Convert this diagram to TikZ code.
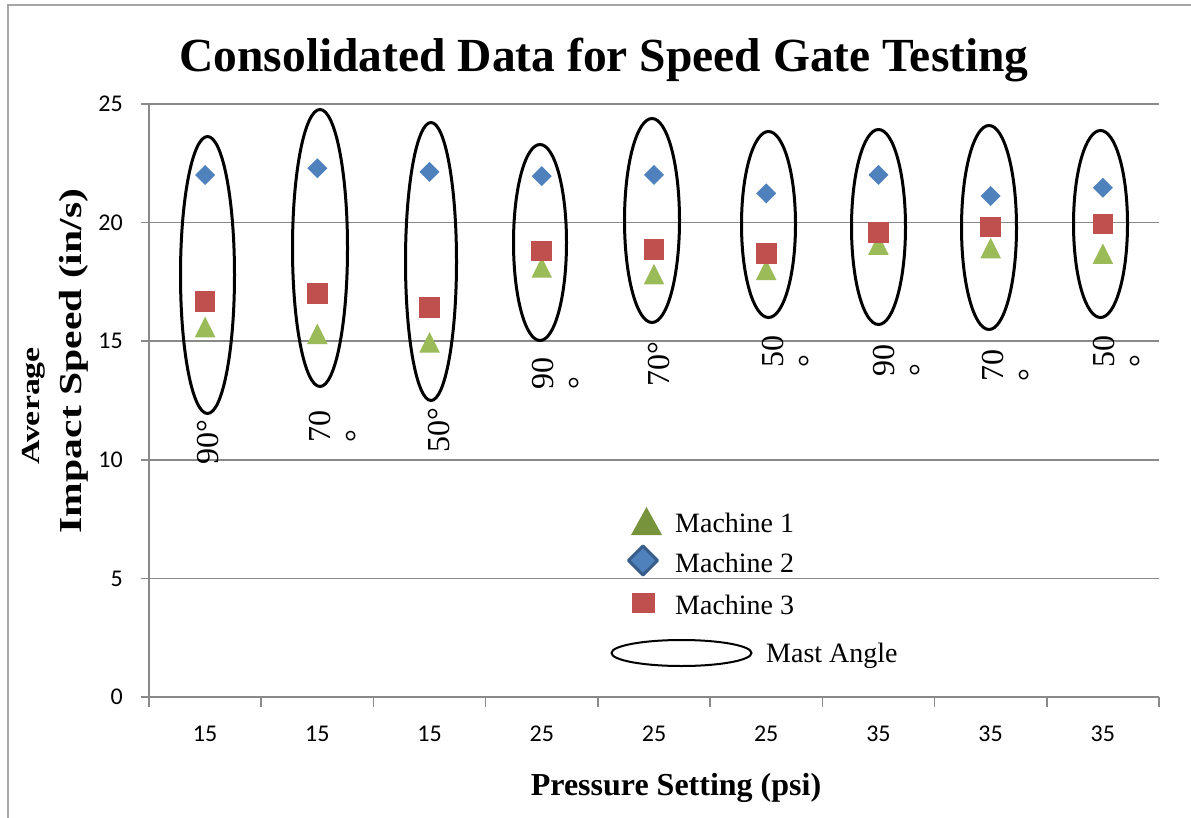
\documentclass[tikz,border=0pt]{standalone}
\usepackage{graphicx}
\usepackage{fontspec}
\setmainfont{Liberation Serif}
\newfontfamily\calibri{Carlito}
\definecolor{gridgray}{HTML}{898989}
\definecolor{framegray}{HTML}{A6A6A6}
\definecolor{mOne}{HTML}{9BBB59}
\definecolor{mOneDark}{HTML}{77933C}
\definecolor{mTwo}{HTML}{4F81BD}
\definecolor{mTwoDark}{HTML}{385D8A}
\definecolor{mThree}{HTML}{C0504D}
\begin{document}
\begin{tikzpicture}[x=1pt,y=-1pt,
  grid/.style={gridgray,line width=1.6pt},
  ticklab/.style={font=\calibri\fontsize{24}{26}\selectfont,inner sep=0pt},
  anglab/.style={rotate=90,anchor=north west,inner sep=0pt,align=left,font=\fontsize{32}{37}\selectfont},
  mast/.style={line width=3pt},
  legtext/.style={anchor=base west,inner sep=0pt,font=\fontsize{28}{30}\selectfont}]
\useasboundingbox (0,0) rectangle (1191,818);
% chart frame and title
\draw[framegray,line width=2pt] (8,818) -- (8,5) -- (1191,5);
\node[anchor=base,font=\bfseries\fontsize{47.5}{50}\selectfont] (title) at (604,72) {Consolidated Data for Speed Gate Testing};
% value axis and grid
\foreach \v in {0,5,...,25} {
  \draw[grid] (141,{697-23.72*\v}) -- (1159,{697-23.72*\v});
  \node[ticklab,anchor=east] (ylab-\v) at (123,{697-23.72*\v}) {\v};
}
\draw[grid] (149,104) -- (149,697);
% category axis
\foreach \k in {0,...,9}
  \draw[grid] ({149+112.22*\k},697) -- ({149+112.22*\k},707);
\foreach \p [count=\k] in {15,15,15,25,25,25,35,35,35}
  \node[ticklab] (xlab-\k) at ({149+112.22*(\k-0.5)},734) {\p};
% axis titles
\node[anchor=base,font=\bfseries\fontsize{32}{34}\selectfont] (xtitle) at (676,795) {Pressure Setting (psi)};
\node[rotate=90,inner sep=0pt,font=\bfseries\fontsize{26}{28}\selectfont] (ytitleA) at (34,406) {\scalebox{1.3}[1]{Average}};
\node[rotate=90,inner sep=0pt,font=\bfseries\fontsize{32}{34}\selectfont] (ytitleB) at (74,361) {\scalebox{1.3}[1]{Impact Speed (in/s)}};
% data: machine 1 / 2 / 3
\foreach \i/\vt/\vd/\vs in {1/15.60/22.01/16.67,2/15.31/22.29/17.02,3/14.95/22.14/16.41,
    4/18.11/21.96/18.81,5/17.83/22.01/18.87,6/18.01/21.23/18.70,
    7/19.07/22.01/19.59,8/18.93/21.12/19.82,9/18.69/21.47/19.94} {
  \pgfmathsetmacro\cx{149+112.22*(\i-0.5)}
  \pgfmathsetmacro\yt{697-23.72*\vt}
  \pgfmathsetmacro\yd{697-23.72*\vd}
  \pgfmathsetmacro\ys{697-23.72*\vs}
  \fill[mOne] ({\cx-10.3},{\yt+10.3}) -- (\cx,{\yt-10.3}) -- ({\cx+10.3},{\yt+10.3}) -- cycle;
  \fill[mTwo] ({\cx-10},\yd) -- (\cx,{\yd-10}) -- ({\cx+10},\yd) -- (\cx,{\yd+10}) -- cycle;
  \fill[mThree] ({\cx-10.3},{\ys-10.3}) rectangle ({\cx+10.3},{\ys+10.3});
}
% mast angle groups
\foreach \ex/\ey/\rx/\ry in {207.5/275/27/138.5,320/248/27.5/138.5,431/261.5/25.5/139,
    540/242.5/26.5/98,652/220.5/27.5/102,768.5/224.5/27/93,
    878.5/227/27/97.5,989/227.5/27.5/102,1100.5/224/27/93.5}
  \draw[mast] (\ex,\ey) ellipse [x radius=\rx,y radius=\ry];
\foreach \ax/\ay/\t [count=\i] in {197/465/{90°},309/443/{70\\°},428/453/{50°},
    532/390/{90\\°},648/387/{70°},762/368/{50\\°},
    873/377/{90\\°},982/382/{70\\°},1093/368/{50\\°}}
  \node[anglab] (ang-\i) at (\ax,\ay) {\t};
% legend
\fill[mOneDark] (631,535) -- (646.5,507) -- (662,535) -- cycle;
\node[legtext] (leg1) at (675,532) {Machine 1};
\filldraw[fill=mTwo,draw=mTwoDark,line width=3pt,line join=round] (628.5,560.5) -- (643,546) -- (657.5,560.5) -- (643,575) -- cycle;
\node[legtext] (leg2) at (675,572) {Machine 2};
\fill[mThree] (632,593) rectangle (655,613);
\node[legtext] (leg3) at (675,614) {Machine 3};
\draw[line width=2pt] (681.5,653) ellipse [x radius=70,y radius=13];
\node[legtext] (leg4) at (766,662) {Mast Angle};
\end{tikzpicture}
\end{document}
